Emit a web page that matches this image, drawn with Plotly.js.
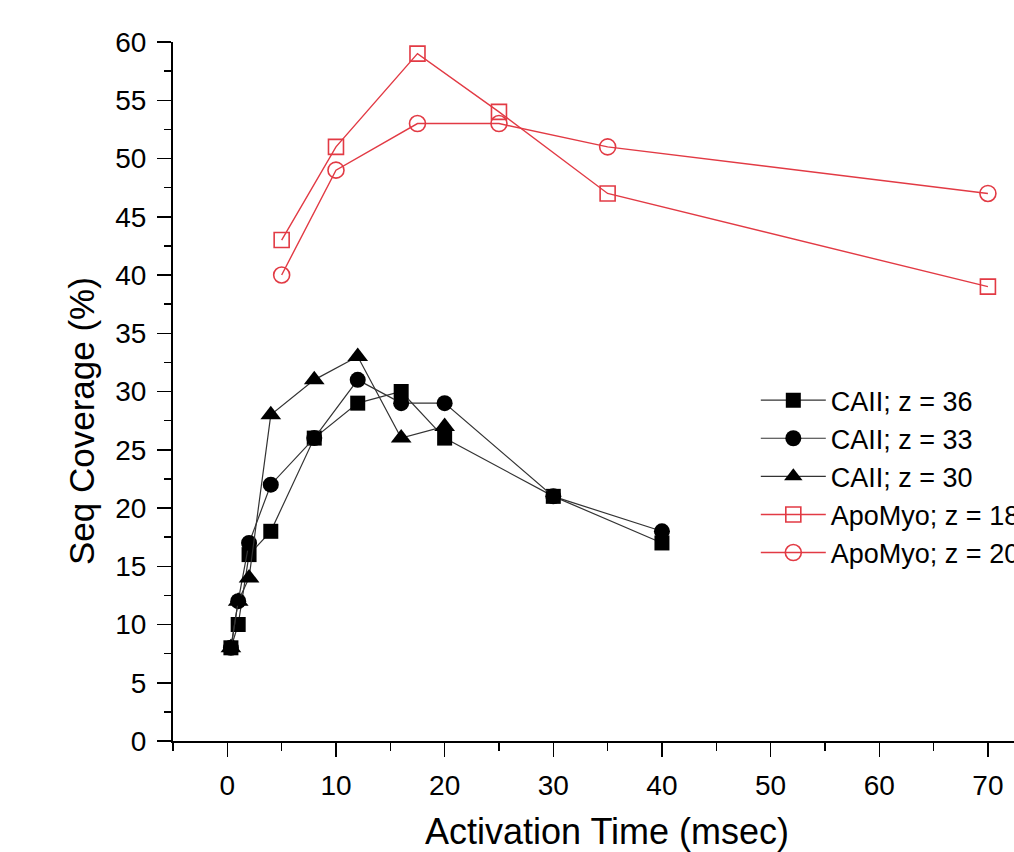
<!DOCTYPE html>
<html>
<head>
<meta charset="utf-8">
<script src="https://cdn.plot.ly/plotly-3.0.1.min.js"></script>
<style>html,body{margin:0;padding:0;background:#fff;}#chart{width:1014px;height:852px;}</style>
</head>
<body>
<div id="chart"></div>
<script>
// Activation times (msec)
const caiiTime36 = [0.33, 1, 2, 4, 8, 12, 16, 20, 30, 40];
const caiiCov36  = [8, 10, 16, 18, 26, 29, 30, 26, 21, 17];
const caiiTime33 = [0.33, 1, 2, 4, 8, 12, 16, 20, 30, 40];
const caiiCov33  = [8, 12, 17, 22, 26, 31, 29, 29, 21, 18];
const caiiTime30 = [0.33, 1, 2, 4, 8, 12, 16, 20];
const caiiCov30  = [8, 12, 14, 28, 31, 33, 26, 27];
const apoTimeA = [5, 10, 17.5, 25, 35, 70];
const apoCovA  = [43, 51, 59, 54, 47, 39];
const apoTimeB = [5, 10, 17.5, 25, 35, 70];
const apoCovB  = [40, 49, 53, 53, 51, 47];
const seriesNames = ["CAII; z = 36", "CAII; z = 33", "CAII; z = 30", "ApoMyo; z = 18", "ApoMyo; z = 20"];

const FONT = "Arial, 'Liberation Sans', sans-serif";
const BLK = "#000000";
const BLKLINE = "#333333";
const RED = "#e23a44";

const traces = [
  {x: caiiTime36, y: caiiCov36, name: seriesNames[0], mode: "lines+markers",
   line: {color: BLKLINE, width: 1.2}, marker: {symbol: "square", size: 15, color: BLK}},
  {x: caiiTime33, y: caiiCov33, name: seriesNames[1], mode: "lines+markers",
   line: {color: BLKLINE, width: 1.2}, marker: {symbol: "circle", size: 16, color: BLK}},
  {x: caiiTime30, y: caiiCov30, name: seriesNames[2], mode: "lines+markers",
   line: {color: BLKLINE, width: 1.2}, marker: {symbol: "triangle-up", size: 18, color: BLK}},
  {x: apoTimeA, y: apoCovA, name: seriesNames[3], mode: "lines+markers",
   line: {color: RED, width: 1.4}, marker: {symbol: "square-open", size: 15, color: RED, line: {width: 1.6, color: RED}}},
  {x: apoTimeB, y: apoCovB, name: seriesNames[4], mode: "lines+markers",
   line: {color: RED, width: 1.4}, marker: {symbol: "circle-open", size: 16, color: RED, line: {width: 1.6, color: RED}}}
];

const layout = {
  width: 1014, height: 852,
  margin: {l: 173, r: 0, t: 42, b: 111, autoexpand: false},
  paper_bgcolor: "#ffffff", plot_bgcolor: "#ffffff",
  font: {family: FONT, color: "#000"},
  showlegend: true,
  legend: {x: 0.693, y: 0.522, xanchor: "left", yanchor: "top",
    font: {family: FONT, size: 27, color: "#000"}, bgcolor: "rgba(0,0,0,0)",
    itemwidth: 65, tracegroupgap: 0},
  xaxis: {range: [-5, 72.4], showgrid: false, zeroline: false,
    showline: true, linecolor: "#000", linewidth: 2,
    ticks: "outside", ticklen: 14, tickwidth: 1.5, tickcolor: "#000",
    tick0: 0, dtick: 10, tickfont: {family: FONT, size: 28, color: "#000"},
    minor: {ticks: "outside", dtick: 5, tick0: 0, ticklen: 8, tickwidth: 1.5, tickcolor: "#000"},
    ticklabelstandoff: 4},
  yaxis: {range: [0, 60], showgrid: false, zeroline: false,
    showline: true, linecolor: "#000", linewidth: 2,
    ticks: "outside", ticklen: 14, tickwidth: 1.5, tickcolor: "#000",
    tick0: 0, dtick: 5, tickfont: {family: FONT, size: 28, color: "#000"},
    minor: {ticks: "outside", dtick: 2.5, tick0: 0, ticklen: 7, tickwidth: 1.5, tickcolor: "#000"},
    ticklabelstandoff: 5},
  annotations: [
    {text: "Activation Time (msec)", xref: "paper", yref: "paper", x: 0.516, y: -0.129,
     xanchor: "center", yanchor: "middle", showarrow: false, font: {family: FONT, size: 36, color: "#000"}},
    {text: "Seq Coverage (%)", xref: "paper", yref: "paper", x: -0.108, y: 0.458,
     xanchor: "center", yanchor: "middle", textangle: -90, showarrow: false, font: {family: FONT, size: 35, color: "#000"}}
  ]
};

Plotly.newPlot("chart", traces, layout, {displayModeBar: false, staticPlot: true});
</script>
</body>
</html>
